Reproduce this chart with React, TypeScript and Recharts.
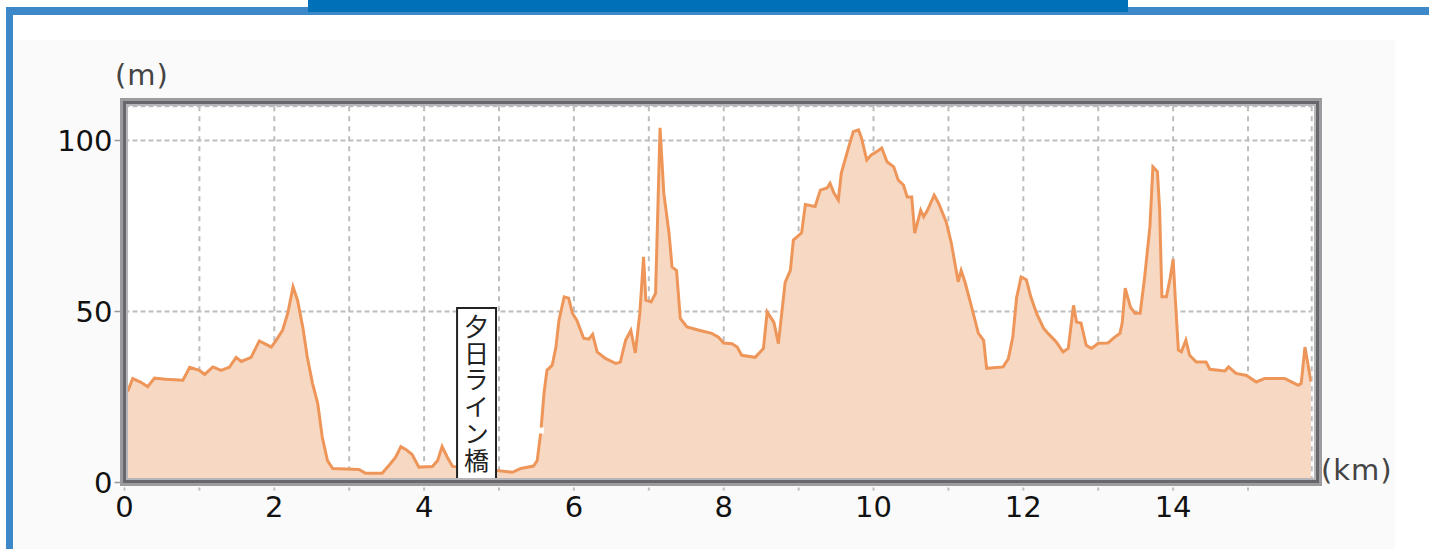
import React from 'react';
import {
  AreaChart, Area, XAxis, YAxis, CartesianGrid, ReferenceArea, ReferenceDot,
} from 'recharts';

// distance (km)
const distanceKm = [
  0.0, 0.05, 0.11, 0.22, 0.31, 0.4, 0.55, 0.78, 0.87, 1.0, 1.07, 1.18, 1.29, 1.4, 1.49, 1.56, 1.69, 1.8, 1.89, 1.96,
  2.02, 2.11, 2.18, 2.25, 2.31, 2.38, 2.44, 2.51, 2.58, 2.64, 2.71, 2.78, 3.13, 3.22, 3.44, 3.53, 3.62, 3.69, 3.76, 3.84,
  3.93, 4.11, 4.18, 4.24, 4.31, 4.38, 4.6, 4.97, 5.18, 5.29, 5.46, 5.51, 5.56, 5.6, 5.64, 5.71, 5.76, 5.8, 5.87, 5.93,
  5.98, 6.04, 6.13, 6.2, 6.25, 6.31, 6.42, 6.56, 6.62, 6.69, 6.76, 6.82, 6.88, 6.93, 6.96, 7.03, 7.09, 7.15, 7.2, 7.27,
  7.31, 7.37, 7.42, 7.51, 7.67, 7.84, 7.93, 8.0, 8.11, 8.18, 8.24, 8.42, 8.53, 8.58, 8.67, 8.73, 8.82, 8.89, 8.93, 9.04,
  9.09, 9.22, 9.29, 9.38, 9.42, 9.47, 9.53, 9.57, 9.67, 9.73, 9.8, 9.84, 9.91, 9.97, 10.04, 10.11, 10.18, 10.27, 10.33, 10.4,
  10.45, 10.51, 10.55, 10.63, 10.67, 10.72, 10.81, 10.87, 10.97, 11.04, 11.13, 11.17, 11.22, 11.31, 11.4, 11.47, 11.51, 11.73, 11.8, 11.86,
  11.91, 11.97, 12.04, 12.1, 12.18, 12.27, 12.33, 12.44, 12.53, 12.6, 12.67, 12.71, 12.77, 12.84, 12.91, 13.0, 13.13, 13.22, 13.29, 13.32,
  13.36, 13.43, 13.49, 13.56, 13.62, 13.69, 13.73, 13.79, 13.82, 13.85, 13.91, 13.96, 14.0, 14.03, 14.07, 14.11, 14.17, 14.22, 14.31, 14.44,
  14.49, 14.69, 14.74, 14.84, 14.98, 15.11, 15.22, 15.49, 15.58, 15.67, 15.71, 15.76, 15.84,
];

// elevation (m)
const elevationM = [
  26, 27, 30.4, 29.3, 28, 30.5, 30.2, 29.9, 33.7, 32.8, 31.6, 33.8, 32.8, 33.7, 36.6, 35.4, 36.6, 41.4, 40.4, 39.6,
  41.4, 44.5, 49.5, 57.2, 53.3, 45.5, 36.7, 29, 23.1, 13.3, 6.4, 4.1, 3.8, 2.7, 2.7, 5, 7.4, 10.5, 9.6, 8.2,
  4.5, 4.7, 6.4, 10.5, 7.4, 4.7, 4.3, 3.5, 3, 4.1, 4.8, 6.4, 15.2, 26, 32.8, 34.3, 39.6, 47.4, 54.3, 53.9,
  49.5, 47.4, 42.2, 41.9, 43.3, 38.2, 36.3, 34.8, 35.2, 41.6, 44.5, 37.9, 49.5, 66, 53.3, 52.8, 55.3, 103.7, 84.6, 72.9,
  63, 62, 48, 45.5, 44.5, 43.6, 42.5, 40.8, 40.6, 39.6, 37.2, 36.6, 39.2, 49.9, 46.8, 40.6, 58.5, 62, 70.9, 73,
  81.3, 80.7, 85.5, 86.1, 87.5, 84.7, 82.6, 90.5, 98.2, 102.6, 103.1, 100.7, 94.3, 95.8, 96.7, 97.8, 93.8, 92.3, 88.4, 87,
  83.5, 83.5, 72.9, 79.6, 77.7, 79.6, 84, 81.6, 76.2, 69.9, 58.7, 62, 58.7, 51.3, 43.6, 41.6, 33.4, 33.8, 36.2, 42.6,
  54, 60.1, 59.3, 54.3, 49.3, 45.1, 43.6, 41.1, 38.2, 39.2, 51.8, 46.9, 46.6, 40.1, 39.2, 40.7, 40.8, 42.5, 43.6, 46.6,
  56.8, 51.3, 49.5, 49.5, 60.1, 74.8, 92.3, 90.9, 79.6, 54.3, 54.3, 59.7, 65.3, 53.3, 38.7, 38.2, 41.6, 37.2, 35.2, 35.2,
  33.1, 32.6, 33.8, 31.9, 31.3, 29.4, 30.4, 30.4, 29.4, 28.4, 29, 39.6, 29.5,
];

const xTicks = [0, 1, 2, 3, 4, 5, 6, 7, 8, 9, 10, 11, 12, 13, 14, 15];
const yTicks = [0, 50, 100];
const xDomain = [0, 15.85];
const yDomain = [0, 110];

const bridgeName = '夕日ライン橋';
const bridgeFromKm = 4.44;
const bridgeToKm = 4.96;
const bridgeTopM = 51;
const markerKm = 5.56;
const markerM = 15.2;

const data = distanceKm.map((d, i) => ({ d, h: elevationM[i] }));

const FONT = '"DejaVu Sans", Verdana, sans-serif';

const BridgeLabel = (props: any) => {
  const vb = props.viewBox || {};
  const cx = vb.x + vb.width / 2;
  return (
    <text
      x={cx}
      y={vb.y + 6}
      fill="#222"
      fontSize={25}
      fontFamily={'"Noto Sans CJK JP", sans-serif'}
      letterSpacing={1.7}
      style={{ writingMode: 'vertical-rl' } as any}
    >
      {bridgeName}
    </text>
  );
};

export default function App() {
  return (
    <div style={{ position: 'absolute', left: 0, top: 0, width: 1429, height: 549, background: '#fff', overflow: 'hidden', fontFamily: FONT }}>
      <div style={{ position: 'absolute', left: 13, top: 40, width: 1382, height: 509, background: '#fafafa' }} />
      <div style={{ position: 'absolute', left: 6, top: 7, width: 1423, height: 8, background: '#3d88c8' }} />
      <div style={{ position: 'absolute', left: 6, top: 7, width: 7, height: 542, background: '#3d88c8' }} />
      <div style={{ position: 'absolute', left: 308, top: 0, width: 820, height: 12, background: '#0070b9' }} />

      <div style={{ position: 'absolute', left: 0, top: 0 }}>
        <AreaChart
          width={1429}
          height={549}
          data={data}
          margin={{ top: 106.3, right: 117.3, bottom: 36.5, left: 64.5 }}
        >
          <CartesianGrid horizontal={false} vertical stroke="#bdbdbd" strokeWidth={2} strokeDasharray="5 5" fill="#ffffff" />
          <CartesianGrid horizontal vertical={false} stroke="#bdbdbd" strokeWidth={2} strokeDasharray="5 3" />
          <XAxis
            dataKey="d"
            type="number"
            domain={xDomain}
            ticks={xTicks}
            allowDataOverflow
            axisLine={false}
            height={30}
            tickSize={8}
            tickMargin={6}
            tickLine={{ stroke: '#bdbdbd', strokeWidth: 2, strokeDasharray: '3 2' }}
            tickFormatter={(v: number) => (v % 2 === 0 ? String(v) : '')}
            tick={{ fill: '#111', fontSize: 29, fontFamily: FONT }}
            interval={0}
          />
          <YAxis
            type="number"
            domain={yDomain}
            ticks={yTicks}
            allowDataOverflow
            axisLine={false}
            width={60}
            tickSize={10}
            tickMargin={2}
            tickLine={{ stroke: '#999', strokeWidth: 1.5 }}
            tick={{ fill: '#111', fontSize: 29, fontFamily: FONT }}
            interval={0}
          />
          <Area
            type="linear"
            dataKey="h"
            stroke="#ee9659"
            strokeWidth={3}
            fill="#f6d8c3"
            fillOpacity={1}
            isAnimationActive={false}
            dot={false}
            activeDot={false}
          />
          <ReferenceDot
            x={markerKm}
            y={markerM}
            r={3}
            shape={(p: any) => <rect x={p.cx - 3} y={p.cy - 3} width={6} height={6} fill="#ffffff" />}
          />
          <ReferenceArea
            x1={bridgeFromKm}
            x2={bridgeToKm}
            y1={0}
            y2={bridgeTopM}
            fill="#ffffff"
            fillOpacity={1}
            stroke="#222"
            strokeWidth={2}
            label={(p: any) => <BridgeLabel {...p} />}
          />
        </AreaChart>
      </div>

      <div style={{ position: 'absolute', left: 120, top: 98, width: 1202, height: 388, boxSizing: 'border-box', border: '3px solid #9c9ca0', boxShadow: 'inset 0 0 0 3px #68686c, inset 0 0 0 5px #b6b6ba' }} />

      <div style={{ position: 'absolute', left: 115, top: 58, fontSize: 29, lineHeight: '34px', color: '#444', letterSpacing: 1 }}>(m)</div>
      <div style={{ position: 'absolute', left: 1321, top: 453, fontSize: 29, lineHeight: '34px', color: '#444', letterSpacing: 1 }}>(km)</div>
    </div>
  );
}
